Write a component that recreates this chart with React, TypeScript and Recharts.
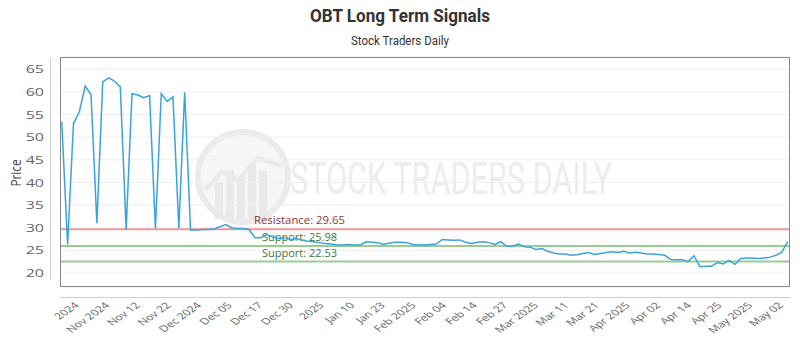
import { LineChart, Line, XAxis, YAxis, CartesianGrid, ReferenceLine } from 'recharts'

// daily closes, oldest first
const prices = [
  53.4, 26.3, 53.0, 55.6, 61.3, 59.4, 31.0, 62.2, 63.1, 62.4, 61.1, 29.6, 59.6, 59.3, 58.7, 59.2,
  29.8, 59.6, 57.9, 58.9, 29.9, 59.9, 29.5, 29.5, 29.6, 29.6, 29.7, 30.2, 30.7, 30.0, 29.8, 29.8,
  29.6, 27.8, 27.8, 28.5, 28.0, 27.6, 27.8, 27.4, 27.6, 27.3, 27.0, 26.9, 26.7, 26.5, 26.4, 26.2,
  26.2, 26.3, 26.2, 26.2, 26.9, 26.8, 26.7, 26.3, 26.6, 26.8, 26.8, 26.7, 26.3, 26.2, 26.2, 26.3,
  26.4, 27.4, 27.3, 27.2, 27.3, 26.8, 26.5, 26.8, 26.9, 26.7, 26.3, 26.9, 25.9, 25.9, 26.4, 25.8,
  25.7, 25.2, 25.4, 24.8, 24.4, 24.2, 24.2, 23.9, 24.0, 24.3, 24.5, 24.1, 24.3, 24.5, 24.7, 24.5,
  24.8, 24.4, 24.6, 24.4, 24.2, 24.2, 24.1, 23.9, 23.0, 22.9, 22.9, 22.5, 23.8, 21.4, 21.5, 21.5,
  22.3, 22.0, 22.8, 21.9, 23.2, 23.3, 23.3, 23.2, 23.3, 23.5, 23.9, 24.6, 26.9,
]

const xLabels = [
  '2024', 'Nov 2024', 'Nov 12', 'Nov 22', 'Dec 2024', 'Dec 05', 'Dec 17', 'Dec 30',
  '2025', 'Jan 10', 'Jan 23', 'Feb 2025', 'Feb 04', 'Feb 14', 'Feb 27', 'Mar 2025',
  'Mar 11', 'Mar 21', 'Apr 2025', 'Apr 02', 'Apr 14', 'Apr 25', 'May 2025', 'May 02',
]

const yTicks = [20, 25, 30, 35, 40, 45, 50, 55, 60, 65]

const levels = [
  { label: 'Resistance', value: 29.65, line: '#ec9a9a', text: '#8e3535', dx: 194, len: 91 },
  { label: 'Support', value: 25.98, line: '#97cc92', text: '#3f7a3a', dx: 202, len: 75 },
  { label: 'Support', value: 22.53, line: '#97cc92', text: '#3f7a3a', dx: 202, len: 75 },
]

const data = prices.map((p, i) => ({ i, price: p }))
const xTicks = xLabels.map((_, k) => 2.55 + k * 5.23)

const FONT = '"Open Sans", Roboto, sans-serif'

const YTick = ({ y, payload }: any) => (
  <text
    transform={`translate(44,${y}) scale(1,0.73)`}
    textAnchor="end"
    dy="0.35em"
    fontSize={16}
    fontFamily={FONT}
    fill="#666"
  >
    {payload.value}
  </text>
)

const XTick = ({ x, index }: any) => (
  <text
    transform={`translate(${x + 3},306) scale(1,0.7) rotate(-45)`}
    textAnchor="end"
    fontSize={12.5}
    fontFamily={FONT}
    fill="#666"
  >
    {xLabels[index]}
  </text>
)

function Watermark() {
  return (
    <svg width={800} height={350} style={{ position: 'absolute', left: 0, top: 0 }}>
      <circle cx={243} cy={177} r={45} fill="#f6f6f6" stroke="#ebebeb" strokeWidth={6} />
      {[0, 1, 2, 3, 4].map(k => (
        <rect key={k} x={215 + k * 11} y={183 - (k % 2) * 10 - k * 3} width={8} height={36 + (k % 2) * 10 + k * 3} fill="#e9e9e9" />
      ))}
      <polyline points="205,190 222,172 238,180 258,158 282,166" fill="none" stroke="#e9e9e9" strokeWidth={4} />
      <text x={290} y={194} fontSize={44} fontFamily="Roboto, sans-serif" fill="#ededed"
        textLength={322} lengthAdjust="spacingAndGlyphs">STOCK TRADERS DAILY</text>
    </svg>
  )
}

function Frame() {
  return (
    <svg width={800} height={350} style={{ position: 'absolute', left: 0, top: 0, pointerEvents: 'none' }}>
      <text x={400} y={22} textAnchor="middle" fontSize={18} fontWeight="bold" fontFamily="Roboto, sans-serif"
        fill="#333" textLength={180} lengthAdjust="spacingAndGlyphs">OBT Long Term Signals</text>
      <text x={400} y={45} textAnchor="middle" fontSize={12.5} fontFamily="Roboto, sans-serif"
        fill="#333" textLength={98} lengthAdjust="spacingAndGlyphs">Stock Traders Daily</text>
      <rect x={60.5} y={57.5} width={729} height={229} fill="none" stroke="#8a8a8a" strokeWidth={1} />
      <line x1={50.5} y1={58} x2={50.5} y2={280} stroke="#d0d0d0" />
      <line x1={60} y1={297.5} x2={790} y2={297.5} stroke="#d0d0d0" />
      <text transform="translate(21,173) rotate(-90) scale(0.78,1)" textAnchor="middle" fontSize={15}
        fontFamily={FONT} fill="#444">Price</text>
    </svg>
  )
}

export default function App() {
  return (
    <div style={{ position: 'absolute', left: 0, top: 0, width: 800, height: 350, background: '#fff' }}>
      <Watermark />
      <div style={{ position: 'absolute', left: 0, top: 0 }}>
        <LineChart width={800} height={350} data={data} margin={{ top: 57, right: 10, bottom: 0, left: 0 }}>
          <CartesianGrid vertical={false} stroke="#efefef" />
          <XAxis
            type="number"
            dataKey="i"
            domain={[-0.3, prices.length - 1 + 0.4]}
            ticks={xTicks}
            interval={0}
            axisLine={false}
            tickLine={false}
            tick={<XTick />}
            height={63}
          />
          <YAxis
            domain={[16.9, 67.7]}
            ticks={yTicks}
            interval={0}
            axisLine={false}
            tickLine={false}
            tick={<YTick />}
            width={60}
          />
          {levels.map((l, k) => (
            <ReferenceLine
              key={k}
              y={l.value}
              stroke={l.line}
              strokeWidth={2}
              label={(p: any) => (
                <text x={p.viewBox.x + l.dx} y={p.viewBox.y - 5} fontSize={11} fontFamily={FONT}
                  fill={l.text} textLength={l.len} lengthAdjust="spacingAndGlyphs">
                  {`${l.label}: ${l.value.toFixed(2)}`}
                </text>
              )}
            />
          ))}
          <Line
            type="linear"
            dataKey="price"
            stroke="#3ba3dc"
            strokeWidth={1.5}
            dot={false}
            isAnimationActive={false}
          />
        </LineChart>
      </div>
      <Frame />
    </div>
  )
}
